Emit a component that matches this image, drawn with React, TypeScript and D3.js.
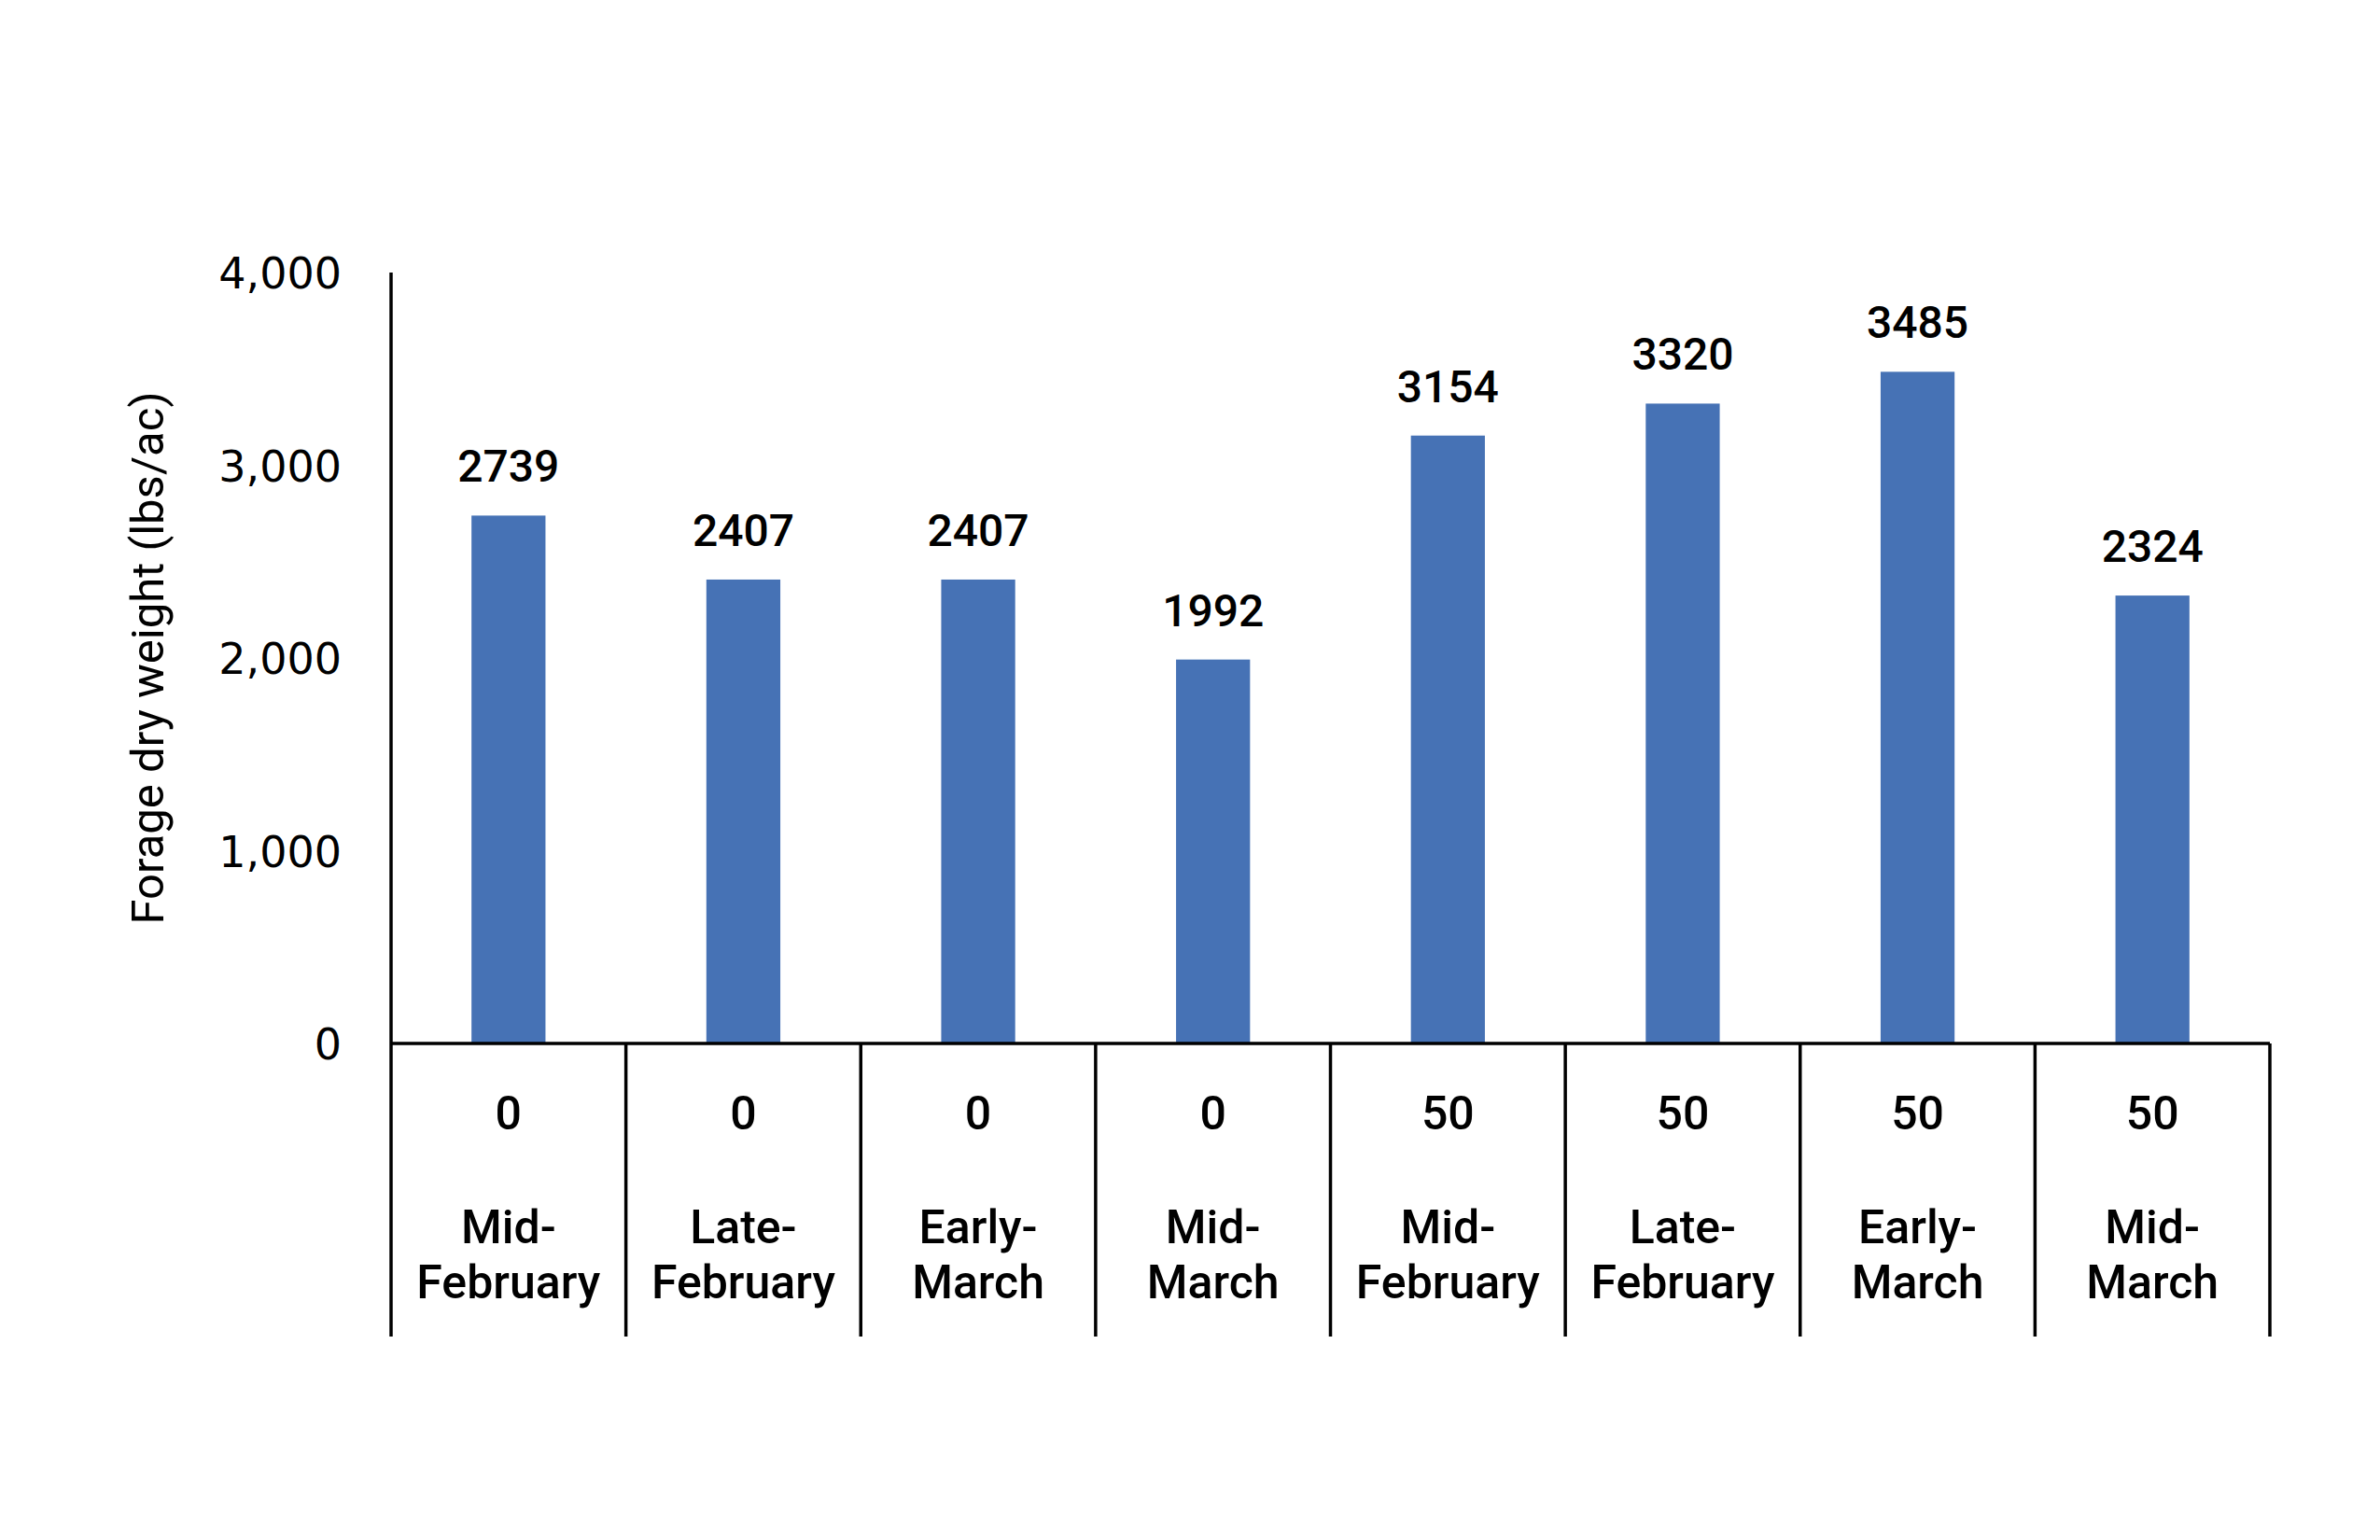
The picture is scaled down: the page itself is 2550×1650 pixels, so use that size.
import { useRef, useEffect } from 'react';
import * as d3 from 'd3';

const doses = ['0', '0', '0', '0', '50', '50', '50', '50'];
const timingTop = ['Mid-', 'Late-', 'Early-', 'Mid-', 'Mid-', 'Late-', 'Early-', 'Mid-'];
const timingBottom = ['February', 'February', 'March', 'March', 'February', 'February', 'March', 'March'];
const forage = [2739, 2407, 2407, 1992, 3154, 3320, 3485, 2324];
const yTicks = [0, 1000, 2000, 3000, 4000];
const yTitle = 'Forage dry weight (lbs/ac)';

export default function App() {
  const svgRef = useRef<SVGSVGElement>(null);

  useEffect(() => {
    if (!svgRef.current) return;
    const width = 2550;
    const height = 1650;

    const svg = d3.select(svgRef.current);
    svg.selectAll('*').remove();
    svg.attr('width', width).attr('height', height);

    const left = 419;
    const right = 2432;
    const top = 292;
    const base = 1118;
    const tableBottom = 1432;

    const keys = forage.map((_, i) => String(i));
    const xScale = d3.scaleBand<string>().domain(keys).range([left, right]).padding(0);
    const yScale = d3.scaleLinear().domain([0, 4000]).range([base, top]);
    const barW = xScale.bandwidth() * 0.315;

    const numFont = '"DejaVu Sans", sans-serif';
    const textFont = 'Roboto, "Liberation Sans", sans-serif';

    // Bars
    svg.append('g')
      .selectAll('rect')
      .data(forage)
      .join('rect')
      .attr('x', (_, i) => xScale(String(i))! + (xScale.bandwidth() - barW) / 2)
      .attr('y', (d) => yScale(d))
      .attr('width', barW)
      .attr('height', (d) => base - yScale(d))
      .attr('fill', '#4672B5');

    // Value labels
    svg.append('g')
      .selectAll('text')
      .data(forage)
      .join('text')
      .attr('x', (_, i) => xScale(String(i))! + xScale.bandwidth() / 2)
      .attr('y', (d) => yScale(d) - 36)
      .attr('text-anchor', 'middle')
      .attr('font-family', textFont)
      .attr('font-weight', 500)
      .attr('font-size', 48)
      .attr('fill', '#000')
      .text((d) => String(d));

    // Y axis (labels only, line drawn below)
    const yAxis = svg.append('g')
      .attr('transform', `translate(${left},0)`)
      .call(d3.axisLeft(yScale).tickValues(yTicks).tickSize(0).tickPadding(53)
        .tickFormat((d) => d3.format(',')(d as number)));
    yAxis.select('.domain').remove();
    yAxis.selectAll('text')
      .attr('font-family', numFont)
      .attr('font-size', 46)
      .attr('fill', '#000')
      .attr('dy', '0.36em');

    // Axis lines and category table
    const lines = svg.append('g').attr('stroke', '#000').attr('stroke-width', 3.5);
    lines.append('line')
      .attr('x1', left).attr('x2', left)
      .attr('y1', top).attr('y2', tableBottom);
    lines.append('line')
      .attr('x1', left).attr('x2', right)
      .attr('y1', base).attr('y2', base);
    lines.selectAll('.divider')
      .data(keys)
      .join('line')
      .attr('class', 'divider')
      .attr('x1', (k) => xScale(k)! + xScale.bandwidth())
      .attr('x2', (k) => xScale(k)! + xScale.bandwidth())
      .attr('y1', base)
      .attr('y2', tableBottom);

    // Category labels
    const cat = svg.append('g')
      .attr('text-anchor', 'middle')
      .attr('font-family', textFont)
      .attr('font-weight', 500)
      .attr('font-size', 50)
      .attr('fill', '#000');
    cat.selectAll('.dose')
      .data(doses)
      .join('text')
      .attr('class', 'dose')
      .attr('x', (_, i) => xScale(String(i))! + xScale.bandwidth() / 2)
      .attr('y', 1210)
      .text((d) => d);
    cat.selectAll('.t1')
      .data(timingTop)
      .join('text')
      .attr('class', 't1')
      .attr('x', (_, i) => xScale(String(i))! + xScale.bandwidth() / 2)
      .attr('y', 1332)
      .text((d) => d);
    cat.selectAll('.t2')
      .data(timingBottom)
      .join('text')
      .attr('class', 't2')
      .attr('x', (_, i) => xScale(String(i))! + xScale.bandwidth() / 2)
      .attr('y', 1391)
      .text((d) => d);

    // Y title
    svg.append('text')
      .attr('transform', `translate(175,${(top + base) / 2}) rotate(-90)`)
      .attr('text-anchor', 'middle')
      .attr('font-family', textFont)
      .attr('font-size', 49)
      .attr('fill', '#000')
      .text(yTitle);
  }, []);

  return (
    <svg
      ref={svgRef}
      style={{ position: 'absolute', left: 0, top: 0, background: '#fff' }}
    />
  );
}
